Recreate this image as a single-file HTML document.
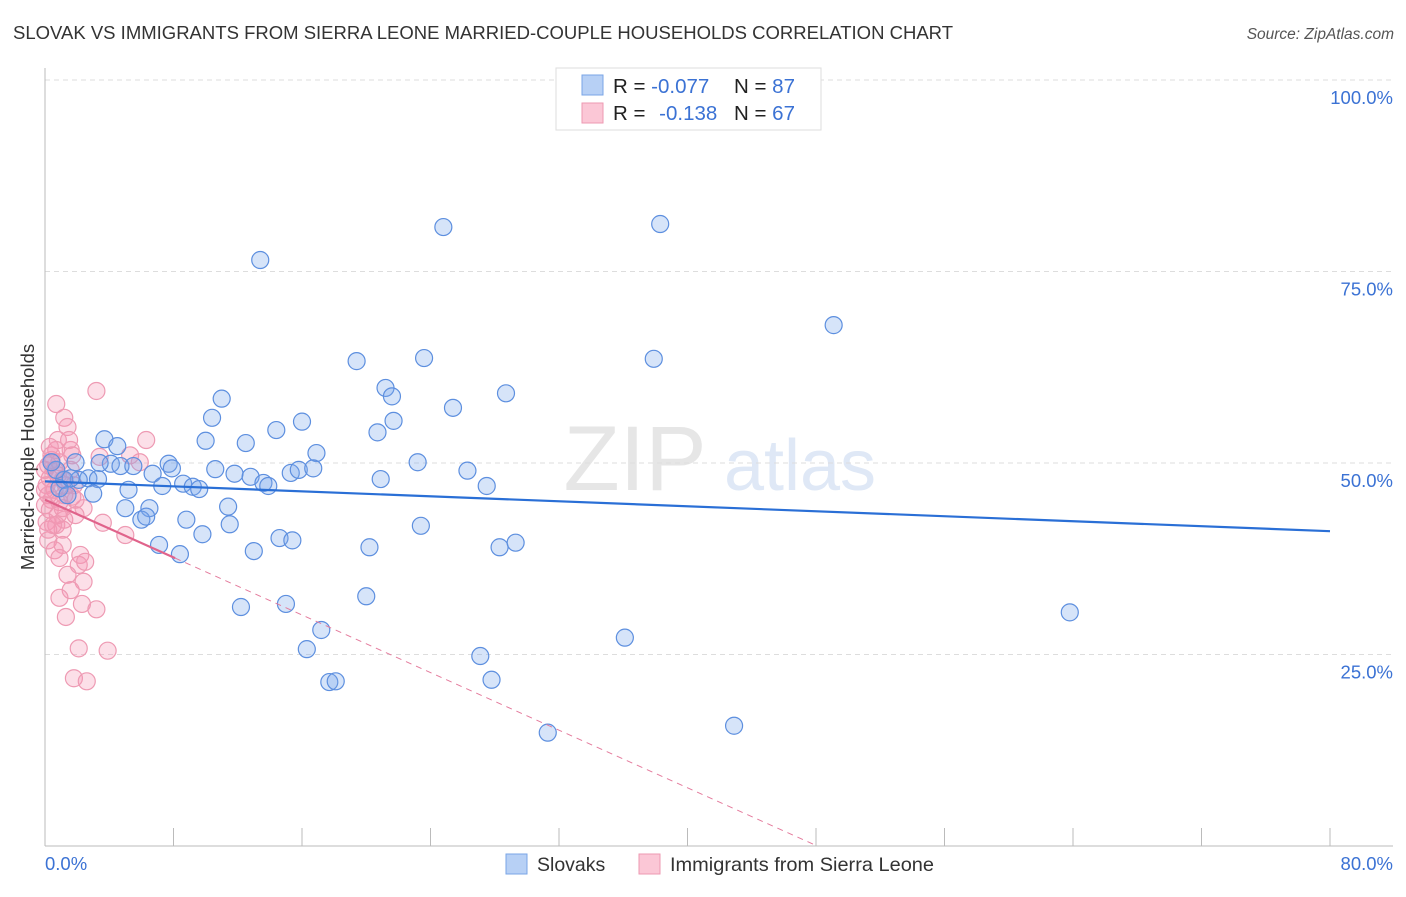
<!DOCTYPE html>
<html><head><meta charset="utf-8"><style>
html,body{margin:0;padding:0;background:#fff;}
body{width:1406px;height:892px;overflow:hidden;font-family:"Liberation Sans",sans-serif;}
svg text{font-family:"Liberation Sans",sans-serif;}
</style></head><body>
<svg id="chart" width="1406" height="892" xmlns="http://www.w3.org/2000/svg">
<text x="13" y="39" font-size="18.5" fill="#333" textLength="940" lengthAdjust="spacingAndGlyphs">SLOVAK VS IMMIGRANTS FROM SIERRA LEONE MARRIED-COUPLE HOUSEHOLDS CORRELATION CHART</text>
<text x="1394" y="39" font-size="15.5" fill="#555" font-style="italic" text-anchor="end">Source: ZipAtlas.com</text>
<g>
<text x="635" y="490" font-size="92" fill="#e6e6e6" font-family="Liberation Serif" text-anchor="middle">ZIP</text>
<text x="800" y="490" font-size="72" fill="#dfe8f6" text-anchor="middle">atlas</text>
</g>
<g id="grid"></g>
<g id="axes"></g>
<g id="marks"></g>
<g>
<rect x="556" y="68" width="265" height="62" fill="#fff" stroke="#ddd"/>
<rect x="582" y="75" width="21" height="20" fill="#b7d0f5" stroke="#7aa5e6"/>
<rect x="582" y="103" width="21" height="20" fill="#fbc7d6" stroke="#ee98b2"/>
<text x="613" y="93" font-size="20.5" fill="#222">R = <tspan fill="#3b72d4">-0.077</tspan></text>
<text x="734" y="93" font-size="20.5" fill="#222">N = <tspan fill="#3b72d4">87</tspan></text>
<text x="613" y="120" font-size="20.5" fill="#222">R = <tspan fill="#3b72d4" dx="8">-0.138</tspan></text>
<text x="734" y="120" font-size="20.5" fill="#222">N = <tspan fill="#3b72d4">67</tspan></text>
</g>
<g>
<rect x="506" y="854" width="21" height="20" fill="#b7d0f5" stroke="#7aa5e6"/>
<text x="537" y="871" font-size="19.5" fill="#333">Slovaks</text>
<rect x="639" y="854" width="21" height="20" fill="#fbc7d6" stroke="#ee98b2"/>
<text x="670" y="871" font-size="19.5" fill="#333" textLength="264" lengthAdjust="spacingAndGlyphs">Immigrants from Sierra Leone</text>
</g>
<text transform="translate(34,457) rotate(-90)" font-size="18.5" fill="#333" text-anchor="middle">Married-couple Households</text>
</svg>
<script>
const yTicks=[25,50,75,100];
const yTickLabels=["25.0%","50.0%","75.0%","100.0%"];
const xTickCount=10;
const xTickLabels=["0.0%","80.0%"];
const blueX=[13.4,24.8,38.3,49.1,19.4,23.6,37.9,11.0,21.2,21.6,25.4,28.7,10.4,16.0,14.4,21.7,20.7,3.7,4.5,10.0,12.5,16.9,7.7,4.1,4.7,5.5,6.7,7.9,10.6,11.8,12.8,13.6,13.9,15.3,15.8,16.7,23.2,26.3,20.9,27.5,3.4,2.7,2.1,3.3,1.2,3.0,5.2,7.3,8.6,9.2,9.6,5.0,6.5,6.0,6.3,8.8,11.4,11.5,9.8,14.6,15.4,23.4,20.2,13.0,7.1,8.4,28.3,29.3,12.2,15.0,20.0,17.2,16.3,36.1,63.8,27.1,27.8,17.7,18.1,42.9,31.3,0.7,0.9,1.4,0.4,1.6,1.9];
const blueY=[76.5,80.8,81.2,68.0,63.3,63.7,63.6,58.4,59.8,58.7,57.2,59.1,55.9,55.4,54.3,55.5,54.0,53.1,52.2,52.9,52.6,51.3,49.9,49.9,49.6,49.6,48.6,49.3,49.2,48.6,48.2,47.4,47.0,48.7,49.1,49.3,50.1,49.0,47.9,47.0,50.0,48.0,47.8,47.9,47.8,46.0,46.5,47.0,47.3,46.9,46.6,44.1,44.1,42.6,43.0,42.6,44.3,42.0,40.7,40.2,39.9,41.8,39.0,38.5,39.3,38.1,39.0,39.6,31.2,31.6,32.6,28.2,25.7,27.2,30.5,24.8,21.7,21.4,21.5,15.7,14.8,49.1,46.7,45.8,50.1,48.0,50.1];
const pinkX=[3.2,0.7,1.2,1.4,6.3,0.8,1.6,0.4,3.4,0.9,0.2,0.6,0.3,1.1,0.1,0.6,0.2,1.2,1.7,0.4,0.9,0,0.3,2.4,0.8,1.2,0.1,0.7,3.6,5.0,1.1,0.2,1.1,0.6,2.2,0.9,2.1,2.5,1.4,2.4,1.6,0.9,2.3,3.2,1.3,2.1,3.9,1.8,2.6,5.9,5.3,1.6,1.8,1.1,0.2,0.4,1.3,1.9,0.8,1.5,0.7,1.7,0.3,0.5,1.9,0,0];
const pinkY=[59.4,57.7,55.9,54.7,53.0,53.0,51.7,51.0,50.8,50.1,49.7,49.1,48.0,47.8,47.1,46.5,45.8,45.8,45.6,45.2,44.9,44.5,43.9,44.1,43.2,42.6,42.3,41.9,42.2,40.6,41.3,39.9,39.3,38.6,38.0,37.6,36.7,37.1,35.4,34.5,33.4,32.4,31.6,30.9,29.9,25.8,25.5,21.9,21.5,50.1,51.0,49.1,47.1,44.1,41.3,50.4,47.1,45.2,48.4,53.0,51.7,51.0,52.1,41.9,43.2,49.1,46.5];
const blueTrend=[47.6,41.1];
const pinkTrend=[45.2,-0.94];
const pinkSolidEnd=8.1;

const X0=45,X1=1330,Y0=846,Y100=80,XMAX=80,RIGHT=1393;
const sx=v=>X0+v/XMAX*(X1-X0);
const sy=v=>Y0-v/100*(Y0-Y100);
const NS="http://www.w3.org/2000/svg";
function mk(tag,attrs,parent){const e=document.createElementNS(NS,tag);for(const k in attrs)e.setAttribute(k,attrs[k]);parent.appendChild(e);return e;}
const grid=document.getElementById('grid'),axes=document.getElementById('axes'),marks=document.getElementById('marks');
yTicks.forEach((t,i)=>{
  const l=mk('line',{x1:X0,x2:RIGHT,y1:sy(t),y2:sy(t),stroke:'#ddd','stroke-dasharray':'5,4'},grid);
  
  
  const tx=mk('text',{x:RIGHT,y:sy(t)+24,'font-size':18.5,fill:'#3b72d4','text-anchor':'end'},axes);
  tx.textContent=yTickLabels[i];
  
  
});
const ya=mk('line',{x1:X0,x2:X0,y1:68,y2:Y0,stroke:'#bbb'},axes);


const xa=mk('line',{x1:X0,x2:RIGHT,y1:Y0,y2:Y0,stroke:'#bbb'},axes);


for(let i=0;i<=xTickCount;i++){
  const x=sx(i*XMAX/xTickCount);
  const t=mk('line',{x1:x,x2:x,y1:Y0,y2:828,stroke:'#bbb'},axes);
  
  
}
const xl0=mk('text',{x:X0,y:870,'font-size':18.5,fill:'#3b72d4'},axes);xl0.textContent=xTickLabels[0];


const xl1=mk('text',{x:RIGHT,y:870,'font-size':18.5,fill:'#3b72d4','text-anchor':'end'},axes);xl1.textContent=xTickLabels[1];



pinkX.forEach((v,i)=>{
  const c=mk('circle',{cx:sx(v),cy:sy(pinkY[i]),r:8.5,fill:'rgba(244,150,178,0.3)',stroke:'#ee9ab3','stroke-width':1.2},marks);
  
  
});
blueX.forEach((v,i)=>{
  const c=mk('circle',{cx:sx(v),cy:sy(blueY[i]),r:8.5,fill:'rgba(120,165,235,0.3)',stroke:'#5d8fdf','stroke-width':1.2},marks);
  
  
});
const bt=mk('line',{x1:sx(0),y1:sy(blueTrend[0]),x2:sx(80),y2:sy(blueTrend[1]),stroke:'#2a6fd6','stroke-width':2.2},marks);


const pZero=-pinkTrend[0]/pinkTrend[1];
const pd=mk('line',{x1:sx(pinkSolidEnd),y1:sy(pinkTrend[0]+pinkTrend[1]*pinkSolidEnd),x2:sx(pZero),y2:sy(0),stroke:'#e47a9c','stroke-width':1,'stroke-dasharray':'6,5'},marks);


const ps=mk('line',{x1:sx(0),y1:sy(pinkTrend[0]),x2:sx(pinkSolidEnd),y2:sy(pinkTrend[0]+pinkTrend[1]*pinkSolidEnd),stroke:'#e0638b','stroke-width':2.2},marks);


</script>
</body></html>
